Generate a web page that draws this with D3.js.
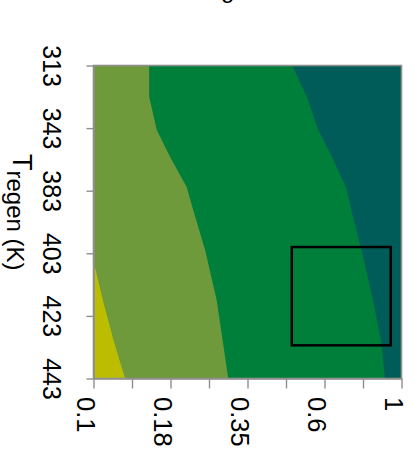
<!DOCTYPE html>
<html>
<head>
<meta charset="utf-8">
<script src="https://cdn.jsdelivr.net/npm/d3@7"></script>
<style>
  body { margin: 0; background: #fff; }
  svg { display: block; }
  text { font-family: "Liberation Sans", Arial, Helvetica, sans-serif; fill: #000; }
</style>
</head>
<body>
<svg id="chart" width="415" height="457"></svg>
<script>
// Regeneration temperature levels (rows) and ratio levels (columns)
const tRegen = [313, 343, 383, 403, 423, 443];
const ratioLabels = ["0.1", "", "0.18", "", "0.35", "", "0.6", "", "1"];

// Contour band boundaries as [T index, ratio index] pairs
const edgeYellowOlive = [[3.13, 0], [3.79, 0.26], [4.39, 0.52], [5, 0.82]];
const edgeOliveGreen = [[0, 1.445], [0.5, 1.445], [1.03, 1.645], [1.46, 1.99], [1.94, 2.42],
                        [2.31, 2.59], [2.95, 2.90], [3.75, 3.20], [5, 3.50]];
const edgeGreenTeal = [[0, 5.16], [0.5, 5.54], [1.03, 5.84], [1.51, 6.23], [1.96, 6.57],
                       [2.42, 6.74], [3.05, 7.00], [3.75, 7.26], [4.44, 7.48], [5, 7.57]];

// Highlighted operating window
const boxT = [2.9, 4.47];
const boxRatio = [5.15, 7.72];

// Band fills from highest to lowest ratio
const bandColors = ["#005c58", "#007f3a", "#6f9a3b", "#bdbd00"];

const svg = d3.select("#chart");

const x = d3.scaleLinear().domain([0, ratioLabels.length - 1]).range([93.5, 401.5]);
const y = d3.scaleLinear().domain([0, tRegen.length - 1]).range([65.5, 378.5]);

// Partly visible heading above the plot
svg.append("text")
  .attr("x", 221).attr("y", -2)
  .attr("font-size", 24)
  .text("g");

const plot = svg.append("g");

plot.append("rect")
  .attr("x", x(0)).attr("y", y(0))
  .attr("width", x(ratioLabels.length - 1) - x(0))
  .attr("height", y(tRegen.length - 1) - y(0))
  .attr("fill", bandColors[0]);

const band = d3.area()
  .y(d => y(d[0]))
  .x0(x(0))
  .x1(d => x(d[1]));

[edgeGreenTeal, edgeOliveGreen, edgeYellowOlive].forEach((edge, i) => {
  plot.append("path")
    .attr("d", band(edge))
    .attr("fill", bandColors[i + 1]);
});

// Operating window
plot.append("rect")
  .attr("x", x(boxRatio[0])).attr("y", y(boxT[0]))
  .attr("width", x(boxRatio[1]) - x(boxRatio[0]))
  .attr("height", y(boxT[1]) - y(boxT[0]))
  .attr("fill", "none")
  .attr("stroke", "#000")
  .attr("stroke-width", 2.5);

// Plot frame
plot.append("rect")
  .attr("x", x(0)).attr("y", y(0))
  .attr("width", x(ratioLabels.length - 1) - x(0))
  .attr("height", y(tRegen.length - 1) - y(0))
  .attr("fill", "none")
  .attr("stroke", "#8f8f8f")
  .attr("stroke-width", 1.6);

// Temperature axis
const yAxis = svg.append("g")
  .attr("transform", `translate(${x(0)},0)`)
  .call(d3.axisLeft(y)
    .tickValues(d3.range(tRegen.length))
    .tickFormat(i => tRegen[i])
    .tickSize(7)
    .tickSizeOuter(0));
yAxis.select(".domain").attr("stroke", "#8f8f8f").attr("stroke-width", 1.6);
yAxis.selectAll(".tick line").attr("stroke", "#8f8f8f").attr("stroke-width", 1.4);
yAxis.selectAll(".tick text")
  .attr("x", null).attr("dy", null)
  .attr("transform", "translate(-50.5,0) rotate(90)")
  .attr("text-anchor", "middle")
  .attr("font-size", 25)
  .attr("font-family", null);

// Ratio axis
const xAxis = svg.append("g")
  .attr("transform", `translate(0,${y(tRegen.length - 1)})`)
  .call(d3.axisBottom(x)
    .tickValues(d3.range(ratioLabels.length))
    .tickFormat(i => ratioLabels[i])
    .tickSize(10)
    .tickSizeOuter(0));
xAxis.select(".domain").attr("stroke", "#8f8f8f").attr("stroke-width", 1.6);
xAxis.selectAll(".tick line").attr("stroke", "#8f8f8f").attr("stroke-width", 1.4);
xAxis.selectAll(".tick text")
  .attr("y", null).attr("dy", null)
  .attr("transform", "translate(-17.5,18.5) rotate(90)")
  .attr("text-anchor", "start")
  .attr("font-size", 25.5)
  .attr("font-family", null);

// Temperature axis title
const title = svg.append("text")
  .attr("transform", "translate(13,154) rotate(90)")
  .attr("text-anchor", "start");
title.append("tspan").attr("font-size", 27).text("T");
title.append("tspan").attr("font-size", 24).attr("dy", 6).text("regen (K)");
</script>
</body>
</html>
